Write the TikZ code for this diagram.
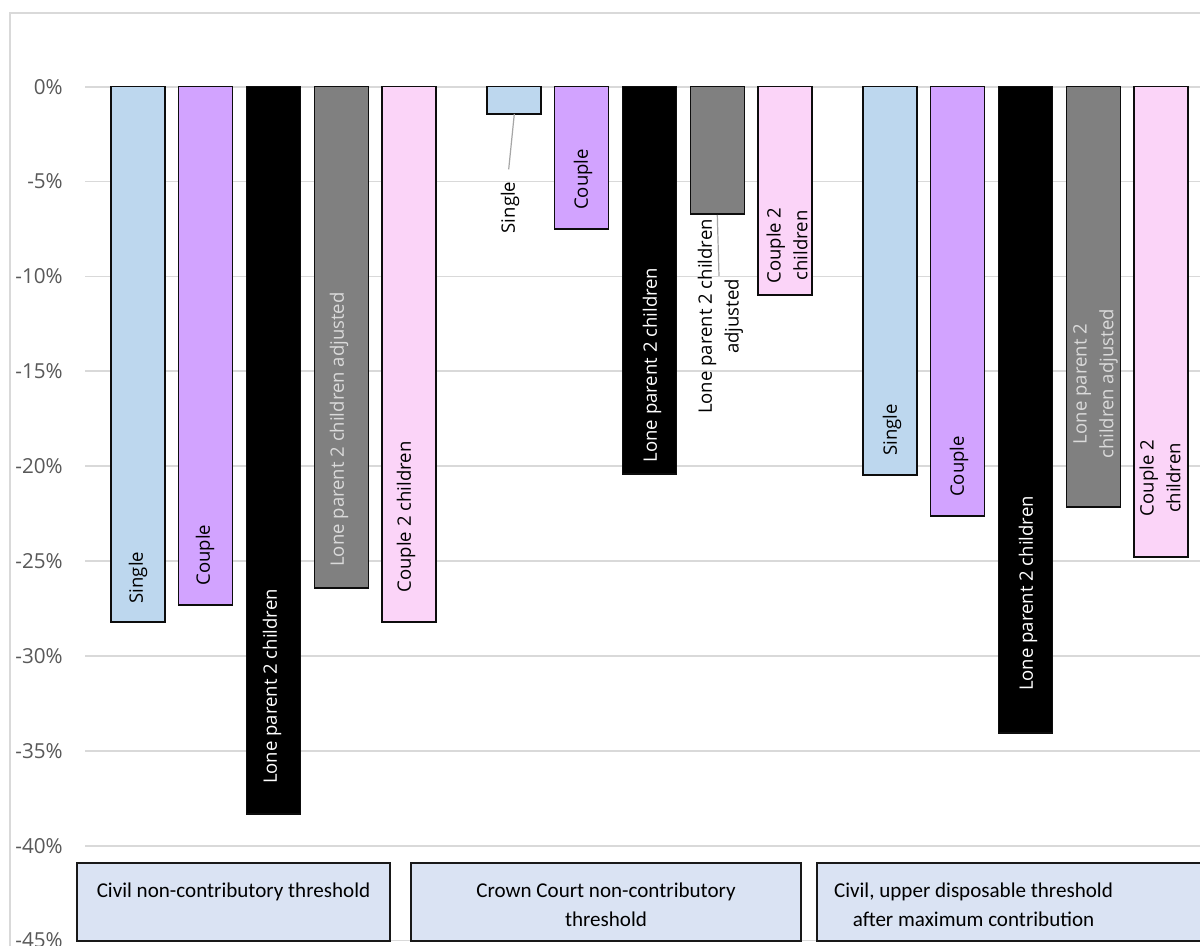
\documentclass[tikz,border=0pt]{standalone}
\usepackage{fontspec}
\setmainfont{Open Sans}
\newfontfamily\boxfont{Carlito}
\definecolor{cSingle}{HTML}{BDD7EE}
\definecolor{cCouple}{HTML}{D2A3FF}
\definecolor{cLone}{HTML}{000000}
\definecolor{cAdj}{HTML}{808080}
\definecolor{cCoupleTwo}{HTML}{FBD4F8}
\definecolor{cBox}{HTML}{DAE3F3}
\definecolor{cGrid}{HTML}{D9D9D9}
\definecolor{cAxis}{HTML}{595959}
\definecolor{cLeader}{HTML}{A6A6A6}
\definecolor{cAdjText}{HTML}{DADADA}
\tikzset{
  gridline/.style={draw=cGrid, line width=1.3pt},
  axislab/.style={text=cAxis, font=\fontsize{15.5}{18}\selectfont, anchor=east, inner sep=0pt},
  barbox/.style={draw=black!95, line width=1.1pt},
  barlab/.style={rotate=90, inner sep=0pt, align=center, font=\fontsize{13.9}{20}\selectfont},
  leader/.style={draw=cLeader, line width=0.9pt},
  catbox/.style={draw=black!90, fill=cBox, line width=1.1pt},
  cattext/.style={font=\boxfont\fontsize{15.8}{21.75}\selectfont, align=center, anchor=north, inner sep=0pt}
}
\begin{document}
\begin{tikzpicture}[x=0.75pt,y=-0.75pt]
\useasboundingbox (0,0) rectangle (1200,946);
\clip (0,0) rectangle (1200,946);
\fill[white] (0,0) rectangle (1200,946);
% outer frame
\draw[cGrid, line width=1.2pt] (10,1000) -- (10,13) -- (1250,13);
% gridlines and axis labels
\foreach \k/\t in {0/0\%,1/-5\%,2/-10\%,3/-15\%,4/-20\%,5/-25\%,6/-30\%,7/-35\%,8/-40\%,9/-45\%}{
  \draw[gridline] (85,{86.7+94.875*\k}) -- (1250,{86.7+94.875*\k});
  \node[axislab] (ax\k) at (63,{86.7+94.875*\k}) {\t};
}
% bars
\foreach \xl/\yb/\c in {
  111/622/cSingle, 178.75/605/cCouple, 246.5/814/cLone, 314.25/588/cAdj, 382/622/cCoupleTwo,
  487/114/cSingle, 554.75/229/cCouple, 622.5/474/cLone, 690.25/214/cAdj, 758/295/cCoupleTwo,
  863/475/cSingle, 930.75/516/cCouple, 998.5/733/cLone, 1066.25/507/cAdj, 1134/557/cCoupleTwo}{
  \draw[barbox, fill=\c] (\xl,86.7) rectangle ({\xl+54},\yb);
}
% group 1 labels
\node[barlab] (a1) at (138,577.5) {Single};
\node[barlab] (a2) at (205,555) {Couple};
\node[barlab, text=white] (a3) at (272,686.5) {Lone parent 2 children};
\node[barlab, text=cAdjText] (a4) at (339,429.5) {Lone parent 2 children adjusted};
\node[barlab] (a5) at (406,517) {Couple 2 children};
% group 2 labels
\node[barlab] (b1) at (510,207.5) {Single};
\node[barlab] (b2) at (583,179.5) {Couple};
\node[barlab, text=white] (b3) at (652,365) {Lone parent 2 children};
\node[barlab] (b4) at (720.5,316.5) {Lone parent 2 children\\adjusted};
\node[barlab] (b5) at (787,245.5) {Couple 2\\children};
% group 3 labels
\node[barlab] (c1) at (892,430) {Single};
\node[barlab] (c2) at (959,466.5) {Couple};
\node[barlab, text=white] (c3) at (1028,593.5) {Lone parent 2 children};
\node[barlab, text=cAdjText] (c4) at (1095.5,384) {Lone parent 2\\children adjusted};
\node[barlab] (c5) at (1160,478) {Couple 2\\children};
% leader lines
\coordinate (b1bar) at (514.3,114);
\coordinate (b1end) at (508.7,169.3);
\coordinate (b4bar) at (717.3,215);
\coordinate (b4end) at (719,276);
\draw[leader] (b1bar) -- (b1end);
\draw[leader] (b4bar) -- (b4end);
% category boxes
\draw[catbox] (77,863) rectangle (390,941);
\draw[catbox] (411,863) rectangle (801,941);
\draw[catbox] (817,863) rectangle (1230,941);
\node[cattext] (k1) at (233.5,882.3) {Civil non-contributory threshold};
\node[cattext] (k2) at (606,882.3) {Crown Court non-contributory\\threshold};
\node[cattext] (k3) at (973.5,882.3) {Civil, upper disposable threshold\\after maximum contribution};
\end{tikzpicture}
\end{document}
